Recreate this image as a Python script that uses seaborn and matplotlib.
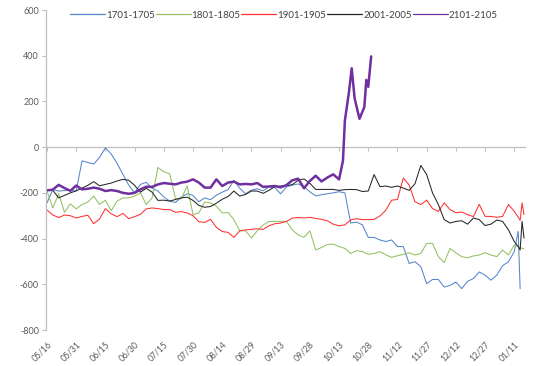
import matplotlib
matplotlib.use('Agg')
import matplotlib.pyplot as plt
from matplotlib.lines import Line2D
import pandas as pd
import seaborn as sns

# days counted from 05/16, one reading every 3 days, plus a few extra points
grid = list(range(0, 244, 3))

series_names = ['1701-1705', '1801-1805', '1901-1905', '2001-2005', '2101-2105']

days_1701 = grid[:81] + [242, 243]
vals_1701 = [-244, -186, -192, -190, -189, -192, -60, -67, -74, -45,
             -3, -30, -71, -119, -166, -200, -163, -154, -180, -192,
             -218, -236, -242, -219, -204, -211, -239, -222, -230, -210,
             -197, -186, -145, -180, -204, -188, -182, -191, -174, -177,
             -204, -174, -166, -161, -174, -195, -213, -208, -204, -200,
             -195, -200, -332, -328, -340, -395, -395, -406, -413, -406,
             -435, -435, -509, -501, -523, -597, -579, -579, -612, -605,
             -590, -619, -587, -575, -546, -560, -582, -560, -519, -501,
             -457, -368, -619]

days_1801 = grid + [245]
vals_1801 = [-192, -266, -204, -285, -248, -270, -251, -240, -214, -251,
             -232, -278, -236, -222, -222, -214, -200, -251, -222, -89,
             -108, -116, -225, -226, -170, -295, -288, -240, -244, -258,
             -288, -286, -317, -366, -366, -397, -366, -341, -325, -325,
             -325, -325, -362, -384, -395, -366, -450, -439, -426, -424,
             -435, -443, -465, -453, -457, -469, -465, -457, -471, -482,
             -475, -469, -462, -472, -465, -421, -421, -479, -505, -443,
             -462, -479, -484, -476, -472, -462, -472, -479, -450, -472,
             -428, -440, -445]

days_1901 = grid + [244, 245]
vals_1901 = [-275, -297, -308, -297, -300, -310, -303, -298, -335, -314,
             -269, -292, -304, -290, -313, -304, -294, -270, -266, -269,
             -273, -273, -285, -282, -288, -300, -326, -329, -316, -351,
             -369, -373, -395, -366, -362, -360, -357, -360, -344, -335,
             -332, -325, -310, -308, -310, -307, -312, -316, -322, -337,
             -344, -340, -318, -313, -317, -317, -316, -301, -276, -232,
             -229, -135, -166, -239, -251, -232, -269, -281, -244, -273,
             -287, -284, -295, -304, -250, -303, -303, -307, -303, -251,
             -281, -320, -244, -295]

days_2001 = grid[:81] + [242, 243, 244, 245]
vals_2001 = [-189, -189, -222, -211, -200, -191, -179, -167, -151, -169,
             -163, -157, -148, -141, -145, -167, -197, -180, -197, -233,
             -232, -236, -229, -222, -219, -233, -255, -263, -260, -245,
             -228, -216, -192, -214, -207, -192, -192, -202, -189, -173,
             -170, -169, -164, -145, -139, -158, -185, -185, -185, -185,
             -189, -186, -185, -186, -194, -192, -120, -173, -170, -176,
             -170, -179, -189, -160, -80, -120, -200, -251, -317, -332,
             -325, -322, -337, -310, -317, -343, -337, -319, -325, -362,
             -413, -435, -450, -325, -398]

days_2101 = grid[:51] + [152, 153, 155, 156.5, 158, 160.5, 163, 164, 165, 166.5]
vals_2101 = [-189, -186, -165, -179, -191, -168, -185, -182, -177, -182,
             -192, -188, -192, -200, -204, -200, -185, -173, -174, -163,
             -157, -160, -163, -155, -151, -141, -155, -177, -177, -141,
             -170, -155, -151, -163, -161, -163, -157, -174, -172, -170,
             -176, -166, -145, -138, -180, -148, -125, -150, -133, -119,
             -141, -60, 117, 235, 345, 213, 124, 176, 294, 264, 397]

tick_days = list(range(0, 241, 15))
tick_labels = ['05/16', '05/31', '06/15', '06/30', '07/15', '07/30', '08/14',
               '08/29', '09/13', '09/28', '10/13', '10/28', '11/12', '11/27',
               '12/12', '12/27', '01/11']

colors = {'1701-1705': '#5585CC', '1801-1805': '#92C062', '1901-1905': '#FF3030',
          '2001-2005': '#262626', '2101-2105': '#7030A0'}
widths = {'1701-1705': 0.75, '1801-1805': 0.75, '1901-1905': 0.75,
          '2001-2005': 0.75, '2101-2105': 1.8}

frames = []
for name, d, v in zip(series_names,
                      [days_1701, days_1801, days_1901, days_2001, days_2101],
                      [vals_1701, vals_1801, vals_1901, vals_2001, vals_2101]):
    frames.append(pd.DataFrame({'day': d, 'value': v, 'series': name}))
df = pd.concat(frames, ignore_index=True)

sns.set_style('white')
plt.rcParams['font.family'] = ['Lato', 'DejaVu Sans']
plt.rcParams['axes.unicode_minus'] = False

fig = plt.figure(figsize=(5.5, 3.66), dpi=100)
ax = fig.add_axes([46 / 550, 36 / 366, 479 / 550, 320 / 366])

sns.lineplot(data=df, x='day', y='value', hue='series', size='series',
             palette=colors, sizes=widths, estimator=None, sort=False,
             legend=False, ax=ax)

ax.set_xlim(-0.5, 245.5)
ax.set_ylim(-800, 600)
ax.set_yticks(range(-800, 601, 200))
ax.set_xlabel('')
ax.set_ylabel('')

for s in ['top', 'right', 'bottom']:
    ax.spines[s].set_visible(False)
ax.spines['left'].set_color('#BFBFBF')
ax.spines['left'].set_linewidth(0.9)

ax.tick_params(axis='y', left=True, length=3, width=0.8, color='#BFBFBF',
               labelsize=6.5, labelcolor='#595959', pad=2)
ax.set_xticks(tick_days)
ax.set_xticklabels(tick_labels, rotation=45, ha='right', rotation_mode='anchor')
ax.tick_params(axis='x', length=0, labelsize=6.2, labelcolor='#595959', pad=7)

# category axis crossing at zero
sec = ax.secondary_xaxis(800 / 1400)
sec.set_alignment('bottom')
sec.set_xticks(tick_days)
sec.tick_params(axis='x', length=3, width=0.8, color='#BFBFBF', labelbottom=False,
                labeltop=False)
for s in sec.spines.values():
    s.set_color('#BFBFBF')
    s.set_linewidth(0.9)

handles = [Line2D([], [], color=colors[n], lw=0.9) for n in series_names]
fig.legend(handles, series_names, loc='center left', bbox_to_anchor=(0.127, 0.959),
           ncol=5, frameon=False, fontsize=7, handlelength=3.6, handletextpad=0.1,
           columnspacing=0.1, borderpad=0, borderaxespad=0, labelcolor='#404040')

fig.savefig('out.png', dpi=100)
